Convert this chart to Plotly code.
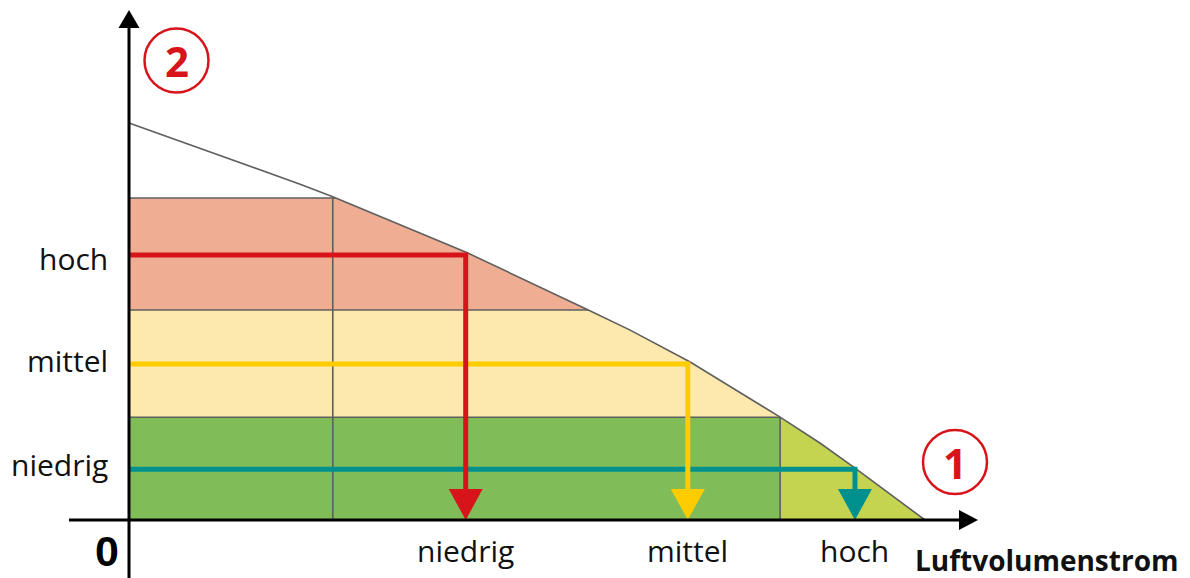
import numpy as np
import plotly.graph_objects as go

# ---- data (x: Luftvolumenstrom in % of max, y: Druck in % of max) ----
curve_x = [0.0, 10.0, 21.5, 25.6, 42.5, 57.5, 62.9, 70.5, 81.8, 86.8, 91.0, 100.0]
curve_y = [100.0, 92.8, 84.6, 81.4, 67.3, 53.1, 47.9, 39.8, 25.9, 19.4, 13.4, 0.0]

band_levels = [0.0, 25.9, 52.9, 81.1]
band_colors = ["#C4D451", "#FDE9AD", "#EFAD93"]
green_rect_x = 81.8
green_rect_color = "#80BC58"
divider_x = [25.6, 81.8]
divider_top = [81.1, 25.9]

druck_labels = ["niedrig", "mittel", "hoch"]
stufen_druck = [12.8, 39.3, 66.75]
volumen_labels = ["hoch", "mittel", "niedrig"]
stufen_volumen = [91.2, 70.2, 42.3]
stufen_colors = ["#00918E", "#FFCC00", "#D7141A"]

# page geometry (the html body has an 8px margin)
OFF = 8
W, H = 1190 - OFF, 578 - OFF
PX_X = 7.96   # px per x unit
PX_Y = 3.97   # px per y unit
X0_PAGE, Y0_PAGE = 129, 520  # page pixel of origin
XR = [(OFF - X0_PAGE) / PX_X, (1190 - X0_PAGE) / PX_X]
YR = [(Y0_PAGE - 578) / PX_Y, (Y0_PAGE - OFF) / PX_Y]

cx = np.array(curve_x)
cy = np.array(curve_y)


def x_at(y):
    return float(np.interp(y, cy[::-1], cx[::-1]))


def band_polygon(lo, hi):
    xs = [0, 0, x_at(hi)]
    ys = [lo, hi, hi]
    mask = (cy < hi) & (cy > lo)
    xs += list(cx[mask])
    ys += list(cy[mask])
    xs += [x_at(lo), 0]
    ys += [lo, lo]
    return xs, ys


fig = go.Figure()
grey = "#5F5F5F"

# bands
for i, col in enumerate(band_colors):
    xs, ys = band_polygon(band_levels[i], band_levels[i + 1])
    fig.add_trace(go.Scatter(x=xs, y=ys, fill="toself", fillcolor=col, mode="none",
                             hoverinfo="skip", showlegend=False))
fig.add_trace(go.Scatter(x=[0, green_rect_x, green_rect_x, 0, 0], y=[0, 0, band_levels[1], band_levels[1], 0],
                         fill="toself", fillcolor=green_rect_color, mode="none",
                         hoverinfo="skip", showlegend=False))

# grey boundary lines
for lv in band_levels[1:]:
    fig.add_trace(go.Scatter(x=[0, x_at(lv)], y=[lv, lv], mode="lines",
                             line=dict(color=grey, width=1.6), hoverinfo="skip", showlegend=False))
for dx, dt in zip(divider_x, divider_top):
    fig.add_trace(go.Scatter(x=[dx, dx], y=[0, dt], mode="lines",
                             line=dict(color=grey, width=1.6), hoverinfo="skip", showlegend=False))

# curve
fig.add_trace(go.Scatter(x=curve_x, y=curve_y, mode="lines",
                         line=dict(color=grey, width=1.6), hoverinfo="skip", showlegend=False))

# operating arrows
ah_half_w = 17 / PX_X
ah_h = 31 / PX_Y
for yd, xv, col in zip(stufen_druck, stufen_volumen, stufen_colors):
    fig.add_trace(go.Scatter(x=[0, xv, xv], y=[yd, yd, ah_h], mode="lines",
                             line=dict(color=col, width=5), hoverinfo="skip", showlegend=False))
    fig.add_trace(go.Scatter(x=[xv - ah_half_w, xv + ah_half_w, xv, xv - ah_half_w],
                             y=[ah_h, ah_h, 0, ah_h], fill="toself", fillcolor=col, mode="none",
                             hoverinfo="skip", showlegend=False))

# axes with arrowheads
x_start = -60 / PX_X
x_tip = 849 / PX_X
x_base = 830 / PX_X
y_tip = 510 / PX_Y
y_base = 492 / PX_Y
fig.add_shape(type="line", x0=x_start, x1=x_base, y0=0, y1=0, line=dict(color="black", width=3))
fig.add_shape(type="line", x0=0, x1=0, y0=YR[0], y1=y_base, line=dict(color="black", width=3))
hw = 10 / PX_Y
fig.add_trace(go.Scatter(x=[x_base, x_tip, x_base, x_base], y=[-hw, 0, hw, -hw], fill="toself",
                         fillcolor="black", mode="none", hoverinfo="skip", showlegend=False))
hw2 = 10.5 / PX_X
fig.add_trace(go.Scatter(x=[-hw2, 0, hw2, -hw2], y=[y_base, y_tip, y_base, y_base], fill="toself",
                         fillcolor="black", mode="none", hoverinfo="skip", showlegend=False))

label_font = dict(family="Open Sans, Fira Sans, sans-serif", size=30, color="#111111")

# left labels (pressure levels); small per-label vertical offsets in px
left_offsets_px = [-5, -3, 3]
for name, yd, off in zip(druck_labels, stufen_druck, left_offsets_px):
    fig.add_annotation(x=-19 / PX_X, y=yd - off / PX_Y, text=name, showarrow=False, xanchor="right",
                       yanchor="middle", font=label_font)
# bottom labels (flow)
for name, xv in zip(volumen_labels, stufen_volumen):
    fig.add_annotation(x=xv, y=-8 / PX_Y, text=name, showarrow=False, xanchor="center",
                       yanchor="top", font=label_font)

fig.add_annotation(x=-8 / PX_X, y=-31 / PX_Y, text="<b>0</b>", showarrow=False, xanchor="right",
                   yanchor="middle", font=dict(family="Liberation Sans, Arial", size=43, color="black"))
fig.add_annotation(x=(1046 - X0_PAGE) / PX_X, y=-40 / PX_Y, text="<b>Luftvolumenstrom</b>", showarrow=False,
                   xanchor="center", yanchor="middle",
                   font=dict(family="Open Sans, Fira Sans, sans-serif", size=28, color="#111111"))

# circled numbers
red = "#D7141A"
for num, (cxp, cyp) in [("2", (176.5, 60.5)), ("1", (955, 462))]:
    x0 = (cxp - X0_PAGE - 32) / PX_X
    x1 = (cxp - X0_PAGE + 32) / PX_X
    y0 = (Y0_PAGE - cyp - 32) / PX_Y
    y1 = (Y0_PAGE - cyp + 32) / PX_Y
    fig.add_shape(type="circle", x0=x0, x1=x1, y0=y0, y1=y1, line=dict(color=red, width=2.5))
    fig.add_annotation(x=(x0 + x1) / 2, y=(y0 + y1) / 2, text="<b>" + num + "</b>", showarrow=False,
                       xanchor="center", yanchor="middle",
                       font=dict(family="Open Sans, sans-serif", size=42, color=red))

fig.update_layout(width=W, height=H, margin=dict(l=0, r=0, t=0, b=0),
                  paper_bgcolor="white", plot_bgcolor="white", showlegend=False,
                  xaxis=dict(range=XR, visible=False, fixedrange=True),
                  yaxis=dict(range=YR, visible=False, fixedrange=True))
fig.write_html("out.html")
